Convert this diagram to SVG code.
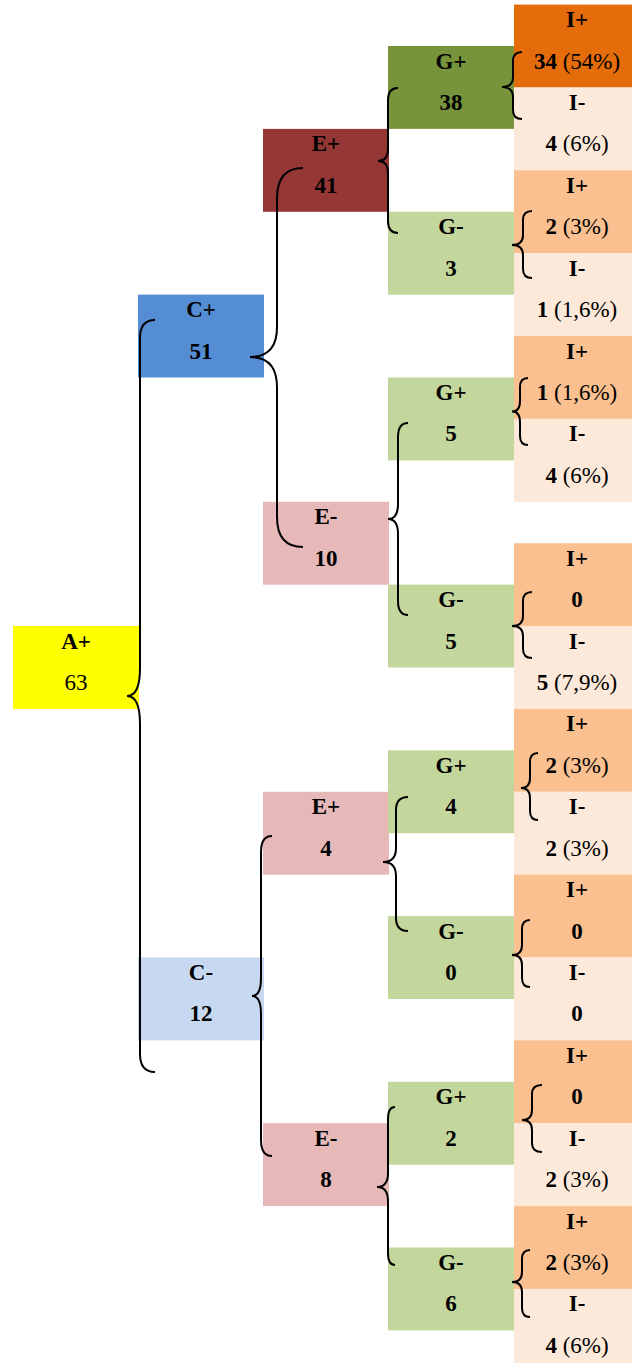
<svg xmlns="http://www.w3.org/2000/svg" width="632" height="1363" viewBox="0 0 632 1363">
<style>
text{font-family:"Liberation Serif","Times New Roman",serif;font-size:23px;text-anchor:middle;fill:#000}
.b{font-weight:bold}
.br{fill:none;stroke:#000;stroke-width:2}
.ip{fill:#FAC090}
.im{fill:#FDE9D9}
.gl{fill:#C3D69B}
.ep{fill:#E6B9B8}
</style>
<rect width="632" height="1363" fill="#fff"/>
<g id="A_plus"><rect x="13" y="626" width="126" height="82.9" fill="#FFFF00"/><text x="76" y="648.6" class="b">A+</text><text x="76" y="690">63</text></g>
<g id="C_plus"><rect x="138" y="294.6" width="126" height="82.9" fill="#548DD4"/><text x="201" y="317.1" class="b">C+</text><text x="201" y="358.5" class="b">51</text></g>
<g id="C_minus"><rect x="138" y="957.5" width="126" height="82.9" fill="#C6D9F1"/><text x="201" y="980" class="b">C-</text><text x="201" y="1021.4" class="b">12</text></g>
<g id="E_plus_1"><rect x="263" y="128.9" width="126" height="82.9" fill="#953735"/><text x="326" y="151.4" class="b">E+</text><text x="326" y="192.8" class="b">41</text></g>
<g id="E_minus_1"><rect x="263" y="501.8" width="126" height="82.9" class="ep"/><text x="326" y="524.3" class="b">E-</text><text x="326" y="565.7" class="b">10</text></g>
<g id="E_plus_2"><rect x="263" y="791.8" width="126" height="82.9" class="ep"/><text x="326" y="814.3" class="b">E+</text><text x="326" y="855.7" class="b">4</text></g>
<g id="E_minus_2"><rect x="263" y="1123.2" width="126" height="82.9" class="ep"/><text x="326" y="1145.7" class="b">E-</text><text x="326" y="1187.1" class="b">8</text></g>
<g id="G_plus_1"><rect x="388" y="46" width="126" height="82.9" fill="#77933C"/><text x="451" y="68.5" class="b">G+</text><text x="451" y="110" class="b">38</text></g>
<g id="G_minus_1"><rect x="388" y="211.75" width="126" height="82.9" class="gl"/><text x="451" y="234.3" class="b">G-</text><text x="451" y="275.7" class="b">3</text></g>
<g id="G_plus_2"><rect x="388" y="377.5" width="126" height="82.9" class="gl"/><text x="451" y="400" class="b">G+</text><text x="451" y="441.4" class="b">5</text></g>
<g id="G_minus_2"><rect x="388" y="584.6" width="126" height="82.9" class="gl"/><text x="451" y="607.1" class="b">G-</text><text x="451" y="648.6" class="b">5</text></g>
<g id="G_plus_3"><rect x="388" y="750.3" width="126" height="82.9" class="gl"/><text x="451" y="772.8" class="b">G+</text><text x="451" y="814.3" class="b">4</text></g>
<g id="G_minus_3"><rect x="388" y="916.1" width="126" height="82.9" class="gl"/><text x="451" y="938.6" class="b">G-</text><text x="451" y="980" class="b">0</text></g>
<g id="G_plus_4"><rect x="388" y="1081.8" width="126" height="82.9" class="gl"/><text x="451" y="1104.3" class="b">G+</text><text x="451" y="1145.7" class="b">2</text></g>
<g id="G_minus_4"><rect x="388" y="1247.5" width="126" height="82.9" class="gl"/><text x="451" y="1270" class="b">G-</text><text x="451" y="1311.4" class="b">6</text></g>
<g id="I_plus_1"><rect x="514" y="4.6" width="118" height="82.9" fill="#E46C0A"/><text x="577" y="27.1" class="b">I+</text><text x="577" y="68.5"><tspan class="b">34</tspan> (54%)</text></g>
<g id="I_minus_1"><rect x="514" y="87.5" width="118" height="82.9" class="im"/><text x="577" y="110" class="b">I-</text><text x="577" y="151.4"><tspan class="b">4</tspan> (6%)</text></g>
<g id="I_plus_2"><rect x="514" y="170.3" width="118" height="82.9" class="ip"/><text x="577" y="192.8" class="b">I+</text><text x="577" y="234.3"><tspan class="b">2</tspan> (3%)</text></g>
<g id="I_minus_2"><rect x="514" y="253.2" width="118" height="82.9" class="im"/><text x="577" y="275.7" class="b">I-</text><text x="577" y="317.1"><tspan class="b">1</tspan> (1,6%)</text></g>
<g id="I_plus_3"><rect x="514" y="336" width="118" height="82.9" class="ip"/><text x="577" y="358.5" class="b">I+</text><text x="577" y="400"><tspan class="b">1</tspan> (1,6%)</text></g>
<g id="I_minus_3"><rect x="514" y="418.9" width="118" height="82.9" class="im"/><text x="577" y="441.4" class="b">I-</text><text x="577" y="482.8"><tspan class="b">4</tspan> (6%)</text></g>
<g id="I_plus_4"><rect x="514" y="543.2" width="118" height="82.9" class="ip"/><text x="577" y="565.7" class="b">I+</text><text x="577" y="607.1" class="b">0</text></g>
<g id="I_minus_4"><rect x="514" y="626.05" width="118" height="82.9" class="im"/><text x="577" y="648.6" class="b">I-</text><text x="577" y="690"><tspan class="b">5</tspan> (7,9%)</text></g>
<g id="I_plus_5"><rect x="514" y="708.9" width="118" height="82.9" class="ip"/><text x="577" y="731.4" class="b">I+</text><text x="577" y="772.8"><tspan class="b">2</tspan> (3%)</text></g>
<g id="I_minus_5"><rect x="514" y="791.8" width="118" height="82.9" class="im"/><text x="577" y="814.3" class="b">I-</text><text x="577" y="855.7"><tspan class="b">2</tspan> (3%)</text></g>
<g id="I_plus_6"><rect x="514" y="874.6" width="118" height="82.9" class="ip"/><text x="577" y="897.1" class="b">I+</text><text x="577" y="938.6" class="b">0</text></g>
<g id="I_minus_6"><rect x="514" y="957.5" width="118" height="82.9" class="im"/><text x="577" y="980" class="b">I-</text><text x="577" y="1021.4" class="b">0</text></g>
<g id="I_plus_7"><rect x="514" y="1040.35" width="118" height="82.9" class="ip"/><text x="577" y="1062.9" class="b">I+</text><text x="577" y="1104.3" class="b">0</text></g>
<g id="I_minus_7"><rect x="514" y="1123.2" width="118" height="82.9" class="im"/><text x="577" y="1145.7" class="b">I-</text><text x="577" y="1187.1"><tspan class="b">2</tspan> (3%)</text></g>
<g id="I_plus_8"><rect x="514" y="1206.1" width="118" height="82.9" class="ip"/><text x="577" y="1228.6" class="b">I+</text><text x="577" y="1270"><tspan class="b">2</tspan> (3%)</text></g>
<g id="I_minus_8"><rect x="514" y="1288.9" width="118" height="74.1" class="im"/><text x="577" y="1311.4" class="b">I-</text><text x="577" y="1352.9"><tspan class="b">4</tspan> (6%)</text></g>
<g id="connectors" class="br">
<path d="M155,320 Q140,320 140,338 L140,668 Q140,696 127,696 Q140,696 140,724 L140,1054 Q140,1072 155,1072"/>
<path d="M303,168 Q277,168 277,198 L277,327 Q277,357 250,357 Q277,357 277,387 L277,517 Q277,547 303,547"/>
<path d="M272,836 Q261,836 261,852 L261,978 Q261,996 252,996 Q261,996 261,1014 L261,1140 Q261,1156 272,1156"/>
<path d="M398,88 Q388,88 388,100 L388,149 Q388,161 378,161 Q388,161 388,173 L388,221 Q388,233 398,233"/>
<path d="M408,423 Q398,423 398,437 L398,504 Q398,519 388,519 Q398,519 398,534 L398,601 Q398,615 408,615"/>
<path d="M408,797 Q396,797 396,810 L396,848 Q396,862 383,862 Q396,862 396,876 L396,918 Q396,931 408,931"/>
<path d="M395,1107 Q388,1107 388,1119 L388,1173 Q388,1187 377,1187 Q388,1187 388,1201 L388,1253 Q388,1265 395,1265"/>
<path d="M522,52 Q513,52 513,61 L513,77 Q513,87 502,87 Q513,87 513,97 L513,110 Q513,119 522,119"/>
<path d="M532,211 Q523,211 523,220 L523,235 Q523,245 512,245 Q523,245 523,255 L523,269 Q523,278 532,278"/>
<path d="M528,378 Q520,378 520,387 L520,401 Q520,411.5 512,411.5 Q520,411.5 520,422 L520,436 Q520,445 528,445"/>
<path d="M532,592 Q523,592 523,601 L523,616 Q523,626 512,626 Q523,626 523,636 L523,649 Q523,658 532,658"/>
<path d="M538,753 Q530,753 530,762 L530,778 Q530,788 521,788 Q530,788 530,798 L530,811 Q530,820 538,820"/>
<path d="M530,920 Q522,920 522,929 L522,945 Q522,955 512,955 Q522,955 522,965 L522,978 Q522,987 530,987"/>
<path d="M542,1085 Q532,1085 532,1094 L532,1110 Q532,1120 522,1120 Q532,1120 532,1130 L532,1143 Q532,1152 542,1152"/>
<path d="M530,1250 Q522,1250 522,1259 L522,1272 Q522,1282 512,1282 Q522,1282 522,1292 L522,1308 Q522,1317 530,1317"/>
</g>
</svg>
